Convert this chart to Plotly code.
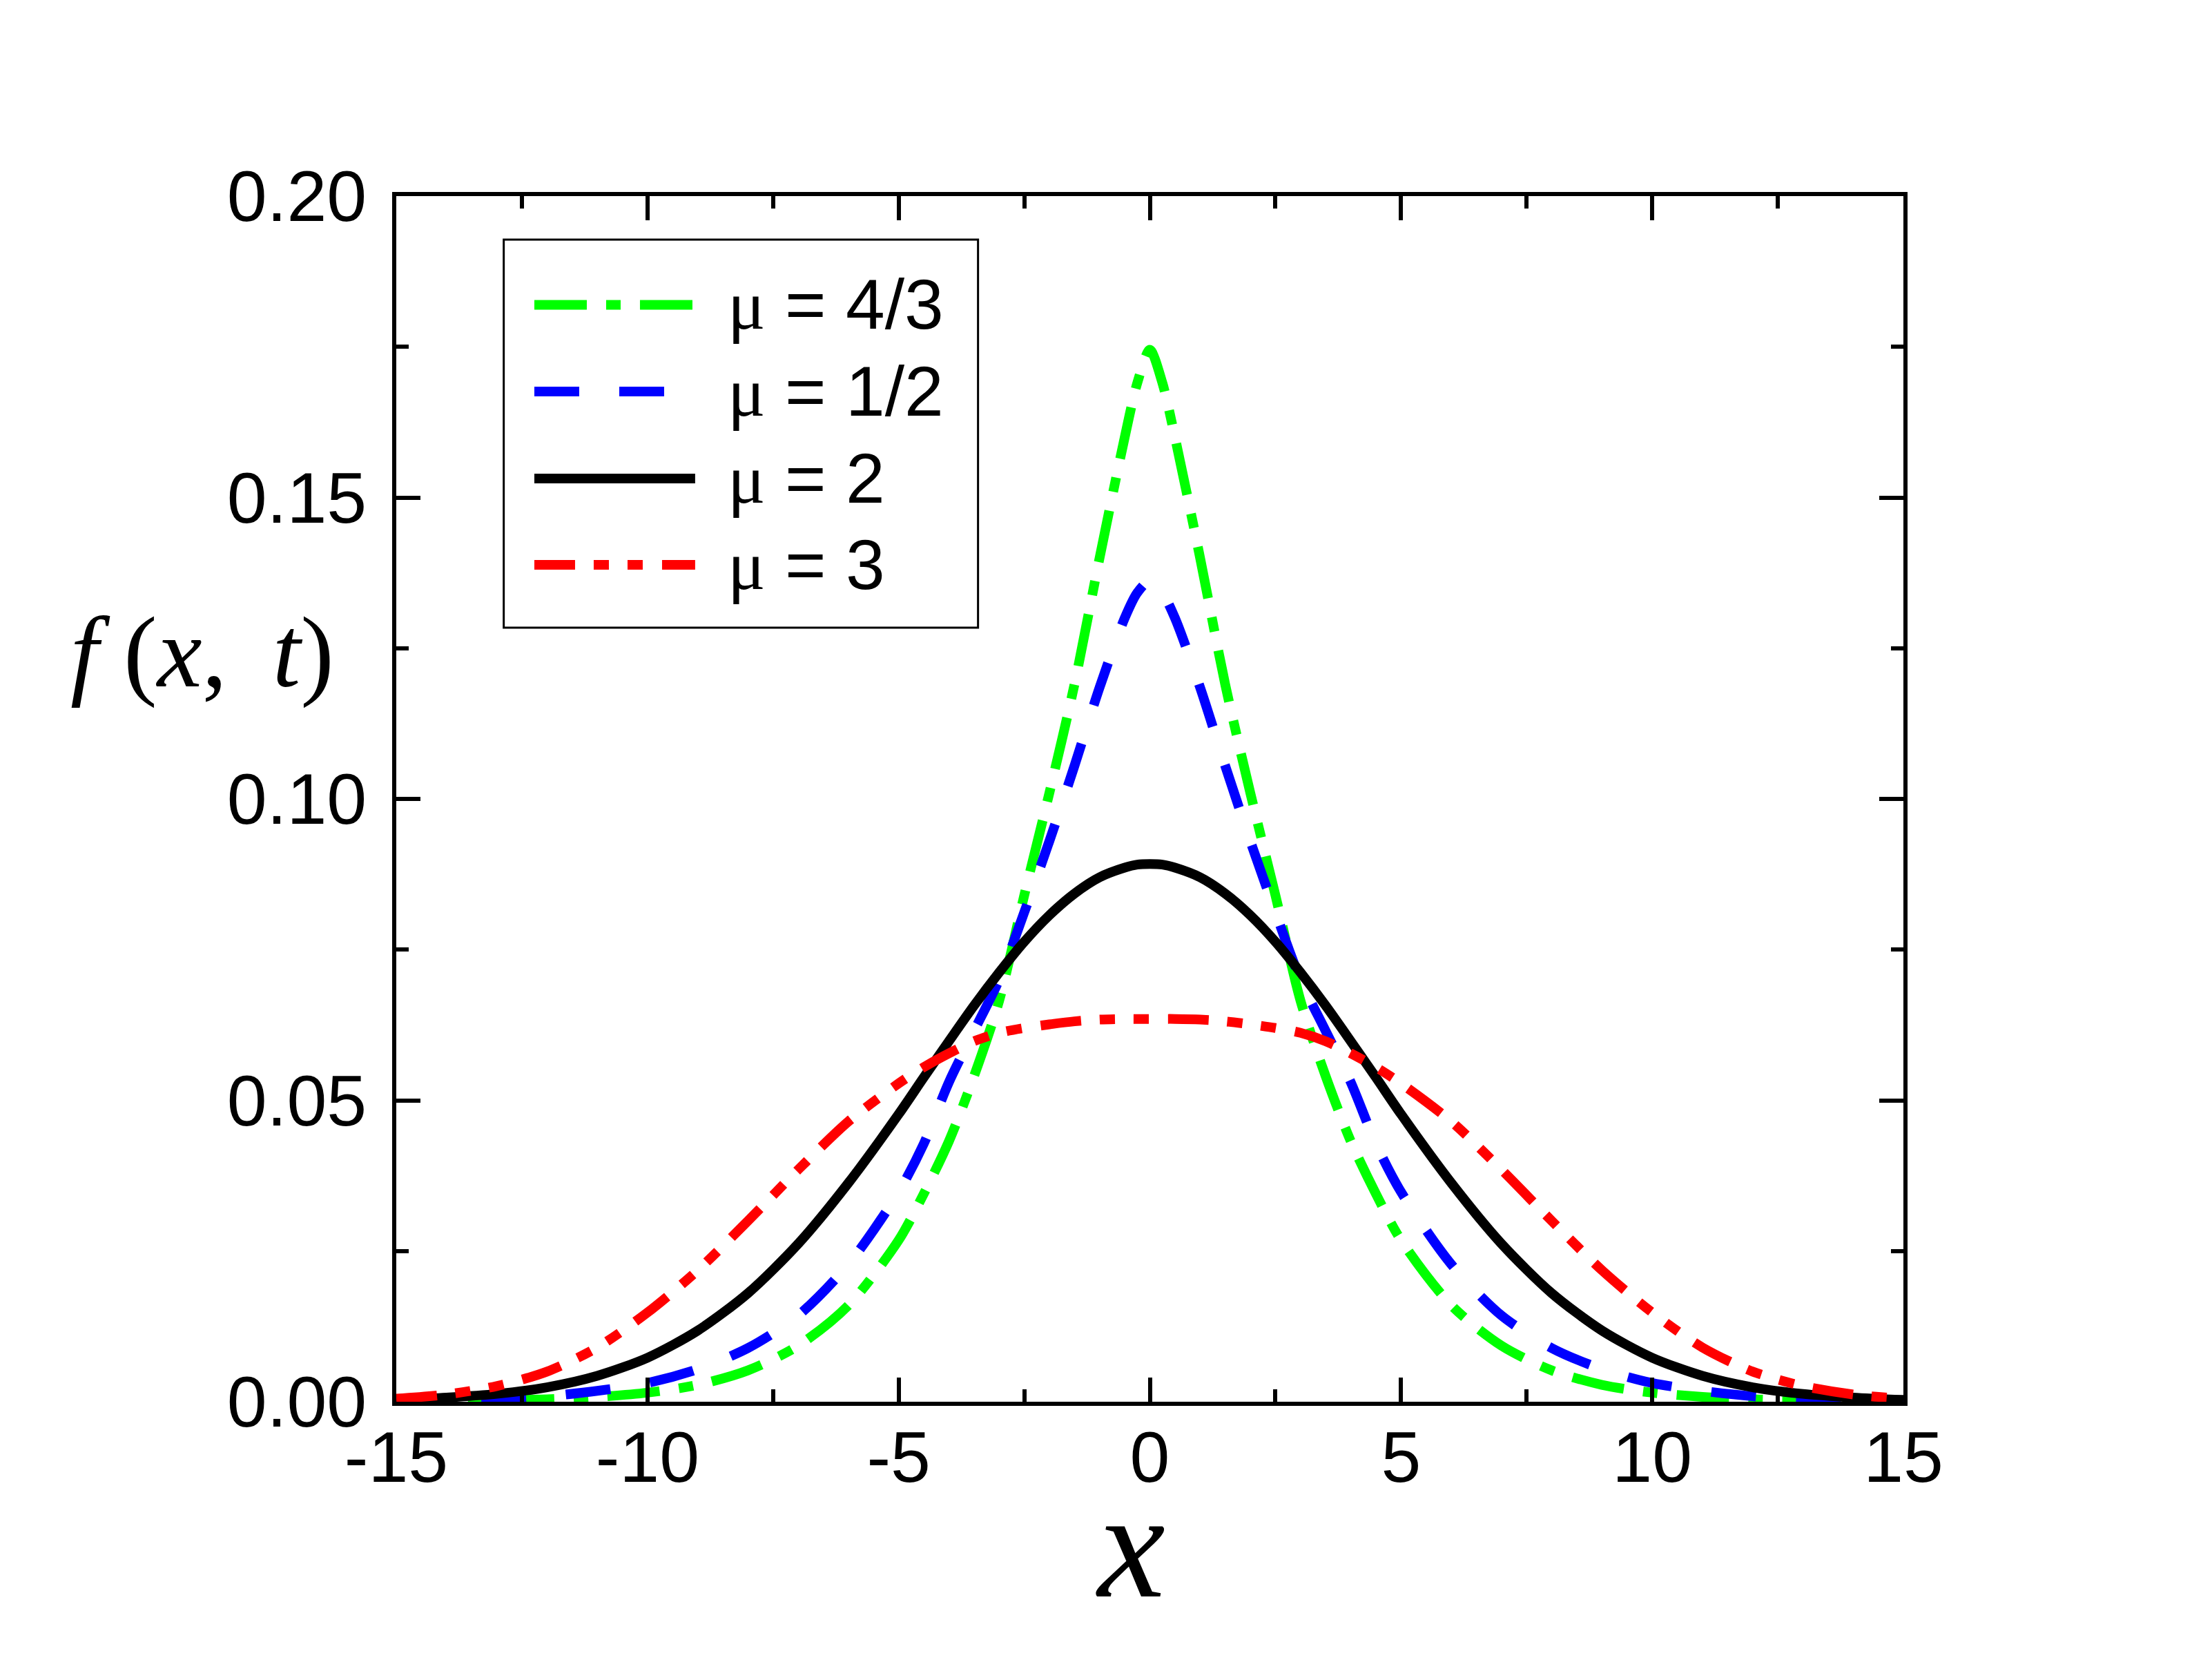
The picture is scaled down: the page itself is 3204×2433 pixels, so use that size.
#######
# Probability density f(x,t) for several values of mu
# Four curves, Origin-style framed axes with inside ticks
######

import plotly.graph_objects as go

x_pos = [-15, -14, -13, -12, -11, -10, -9, -8, -7, -6, -5, -4.5, -4, -3.5, -3, -2.5,
         -2, -1.5, -1, -0.5, -0.25, 0, 0.25, 0.5, 1, 1.5, 2, 2.5, 3, 3.5, 4, 4.5, 5,
         6, 7, 8, 9, 10, 11, 12, 13, 14, 15]

# mu = 4/3 (green, dash-dot)
f_mu43 = [0.0001, 0.0001, 0.0002, 0.0004, 0.0008, 0.0015, 0.0028, 0.0052, 0.0093, 0.0160,
          0.0268, 0.0345, 0.0432, 0.0540, 0.0665, 0.0840, 0.1010, 0.1190, 0.1400, 0.1600,
          0.1690, 0.1745, 0.1690, 0.1600, 0.1400, 0.1190, 0.1010, 0.0840, 0.0665, 0.0540,
          0.0432, 0.0345, 0.0268, 0.0160, 0.0093, 0.0052, 0.0028, 0.0015, 0.0008, 0.0004,
          0.0002, 0.0001, 0.0001]

# mu = 1/2 (blue, dashed)
f_mu12 = [0.0001, 0.0002, 0.0004, 0.0009, 0.0018, 0.0031, 0.0054, 0.0089, 0.0143, 0.0228,
          0.0348, 0.0428, 0.0530, 0.0615, 0.0700, 0.0812, 0.0930, 0.1055, 0.1185, 0.1300,
          0.1342, 0.1362, 0.1342, 0.1300, 0.1185, 0.1055, 0.0930, 0.0812, 0.0700, 0.0615,
          0.0530, 0.0428, 0.0348, 0.0228, 0.0143, 0.0089, 0.0054, 0.0031, 0.0018, 0.0009,
          0.0004, 0.0002, 0.0001]

# mu = 2 (black, solid)
f_mu2 = [0.0003, 0.0007, 0.0013, 0.0024, 0.0043, 0.0073, 0.0118, 0.0180, 0.0262, 0.0363,
         0.0477, 0.0538, 0.0598, 0.0657, 0.0712, 0.0763, 0.0807, 0.0843, 0.0870, 0.0886,
         0.0891, 0.0892, 0.0891, 0.0886, 0.0870, 0.0843, 0.0807, 0.0763, 0.0712, 0.0657,
         0.0598, 0.0538, 0.0477, 0.0363, 0.0262, 0.0180, 0.0118, 0.0073, 0.0043, 0.0024,
         0.0013, 0.0007, 0.0003]

# mu = 3 (red, dash-dot-dot)
f_mu3 = [0.0005, 0.0012, 0.0026, 0.0050, 0.0090, 0.0148, 0.0218, 0.0300, 0.0385, 0.0465,
         0.0528, 0.0555, 0.0578, 0.0598, 0.0612, 0.0620, 0.0626, 0.0631, 0.0634, 0.0635,
         0.0635, 0.0635, 0.0635, 0.0635, 0.0634, 0.0631, 0.0626, 0.0620, 0.0612, 0.0598,
         0.0578, 0.0555, 0.0528, 0.0465, 0.0385, 0.0300, 0.0218, 0.0148, 0.0090, 0.0050,
         0.0026, 0.0012, 0.0005]

labels = ['4/3', '1/2', '2', '3']
colors = ['#00ff00', '#0000ff', '#000000', '#ff0000']
dashes = ['76px,28px,21px,28px', '65px,58px', 'solid', '59px,27px,22px,27px,22px,28px']
series = [f_mu43, f_mu12, f_mu2, f_mu3]

x_ticks = [-15, -10, -5, 0, 5, 10, 15]
x_ticktext = ['-15', '-10', '-5', '0', '5', '10', '15']
y_ticks = [0, 0.05, 0.10, 0.15, 0.20]
y_ticktext = ['0.00', '0.05', '0.10', '0.15', '0.20']

LW = 14  # curve width

data = []
for lab, col, dsh, ys in zip(labels, colors, dashes, series):
    data.append(go.Scatter(
        x=x_pos, y=ys, mode='lines', name='μ = ' + lab,
        line=dict(color=col, width=LW, dash=dsh, shape='spline', smoothing=0.8),
        showlegend=False))

# hand-made legend (Origin style: long line samples in a framed box)
shapes = [dict(type='rect', xref='paper', yref='paper',
               x0=0.0713, x1=0.386, y0=0.642, y1=0.9639,
               line=dict(color='black', width=3), fillcolor='white', layer='above')]
annotations = []
row_y = [0.9098, 0.8379, 0.7658, 0.6942]
for lab, col, dsh, ry in zip(labels, colors, dashes, row_y):
    shapes.append(dict(type='line', xref='paper', yref='paper',
                       x0=0.0916, x1=0.1983, y0=ry, y1=ry,
                       line=dict(color=col, width=LW, dash=dsh), layer='above'))
    annotations.append(dict(
        xref='paper', yref='paper', x=0.2188, y=ry, xanchor='left', yanchor='middle',
        text='<span style="font-family:Liberation Serif">μ</span> = ' + lab,
        showarrow=False, font=dict(family='Liberation Sans, Arial', size=102, color='black')))

# axis titles
annotations.append(dict(
    xref='paper', yref='paper', x=-0.1288, y=0.6214, xanchor='center', yanchor='middle',
    text='<i>f</i>\u00a0(<i>x</i>,\u00a0\u2009<i>t</i>)', showarrow=False,
    font=dict(family='Liberation Serif, Times New Roman', size=146, color='black')))
annotations.append(dict(
    xref='paper', yref='paper', x=0.4874, y=-0.1190, xanchor='center', yanchor='middle',
    text='<i>x</i>', showarrow=False,
    font=dict(family='Liberation Serif, Times New Roman', size=220, color='black')))

axis_common = dict(
    showline=True, linecolor='black', linewidth=6, mirror='ticks',
    ticks='inside', ticklen=35, tickwidth=6, tickcolor='black',
    showgrid=False, zeroline=False,
    tickfont=dict(family='Liberation Sans, Arial', size=104, color='black'))

layout = go.Layout(
    width=3196, height=2425,
    margin=dict(l=566, r=447, t=276, b=403),
    paper_bgcolor='white', plot_bgcolor='white',
    xaxis=dict(range=[-15, 15], tickmode='array', tickvals=x_ticks, ticktext=x_ticktext,
               ticklabelstandoff=-15,
               minor=dict(dtick=2.5, tick0=0, ticks='inside', ticklen=18, tickwidth=6,
                          tickcolor='black', showgrid=False),
               **axis_common),
    yaxis=dict(range=[0, 0.2], tickmode='array', tickvals=y_ticks, ticktext=y_ticktext,
               ticklabelstandoff=16,
               minor=dict(dtick=0.025, tick0=0, ticks='inside', ticklen=18, tickwidth=6,
                          tickcolor='black', showgrid=False),
               **axis_common),
    shapes=shapes,
    annotations=annotations,
    showlegend=False)

fig = go.Figure(data=data, layout=layout)
fig.write_html("out.html")
